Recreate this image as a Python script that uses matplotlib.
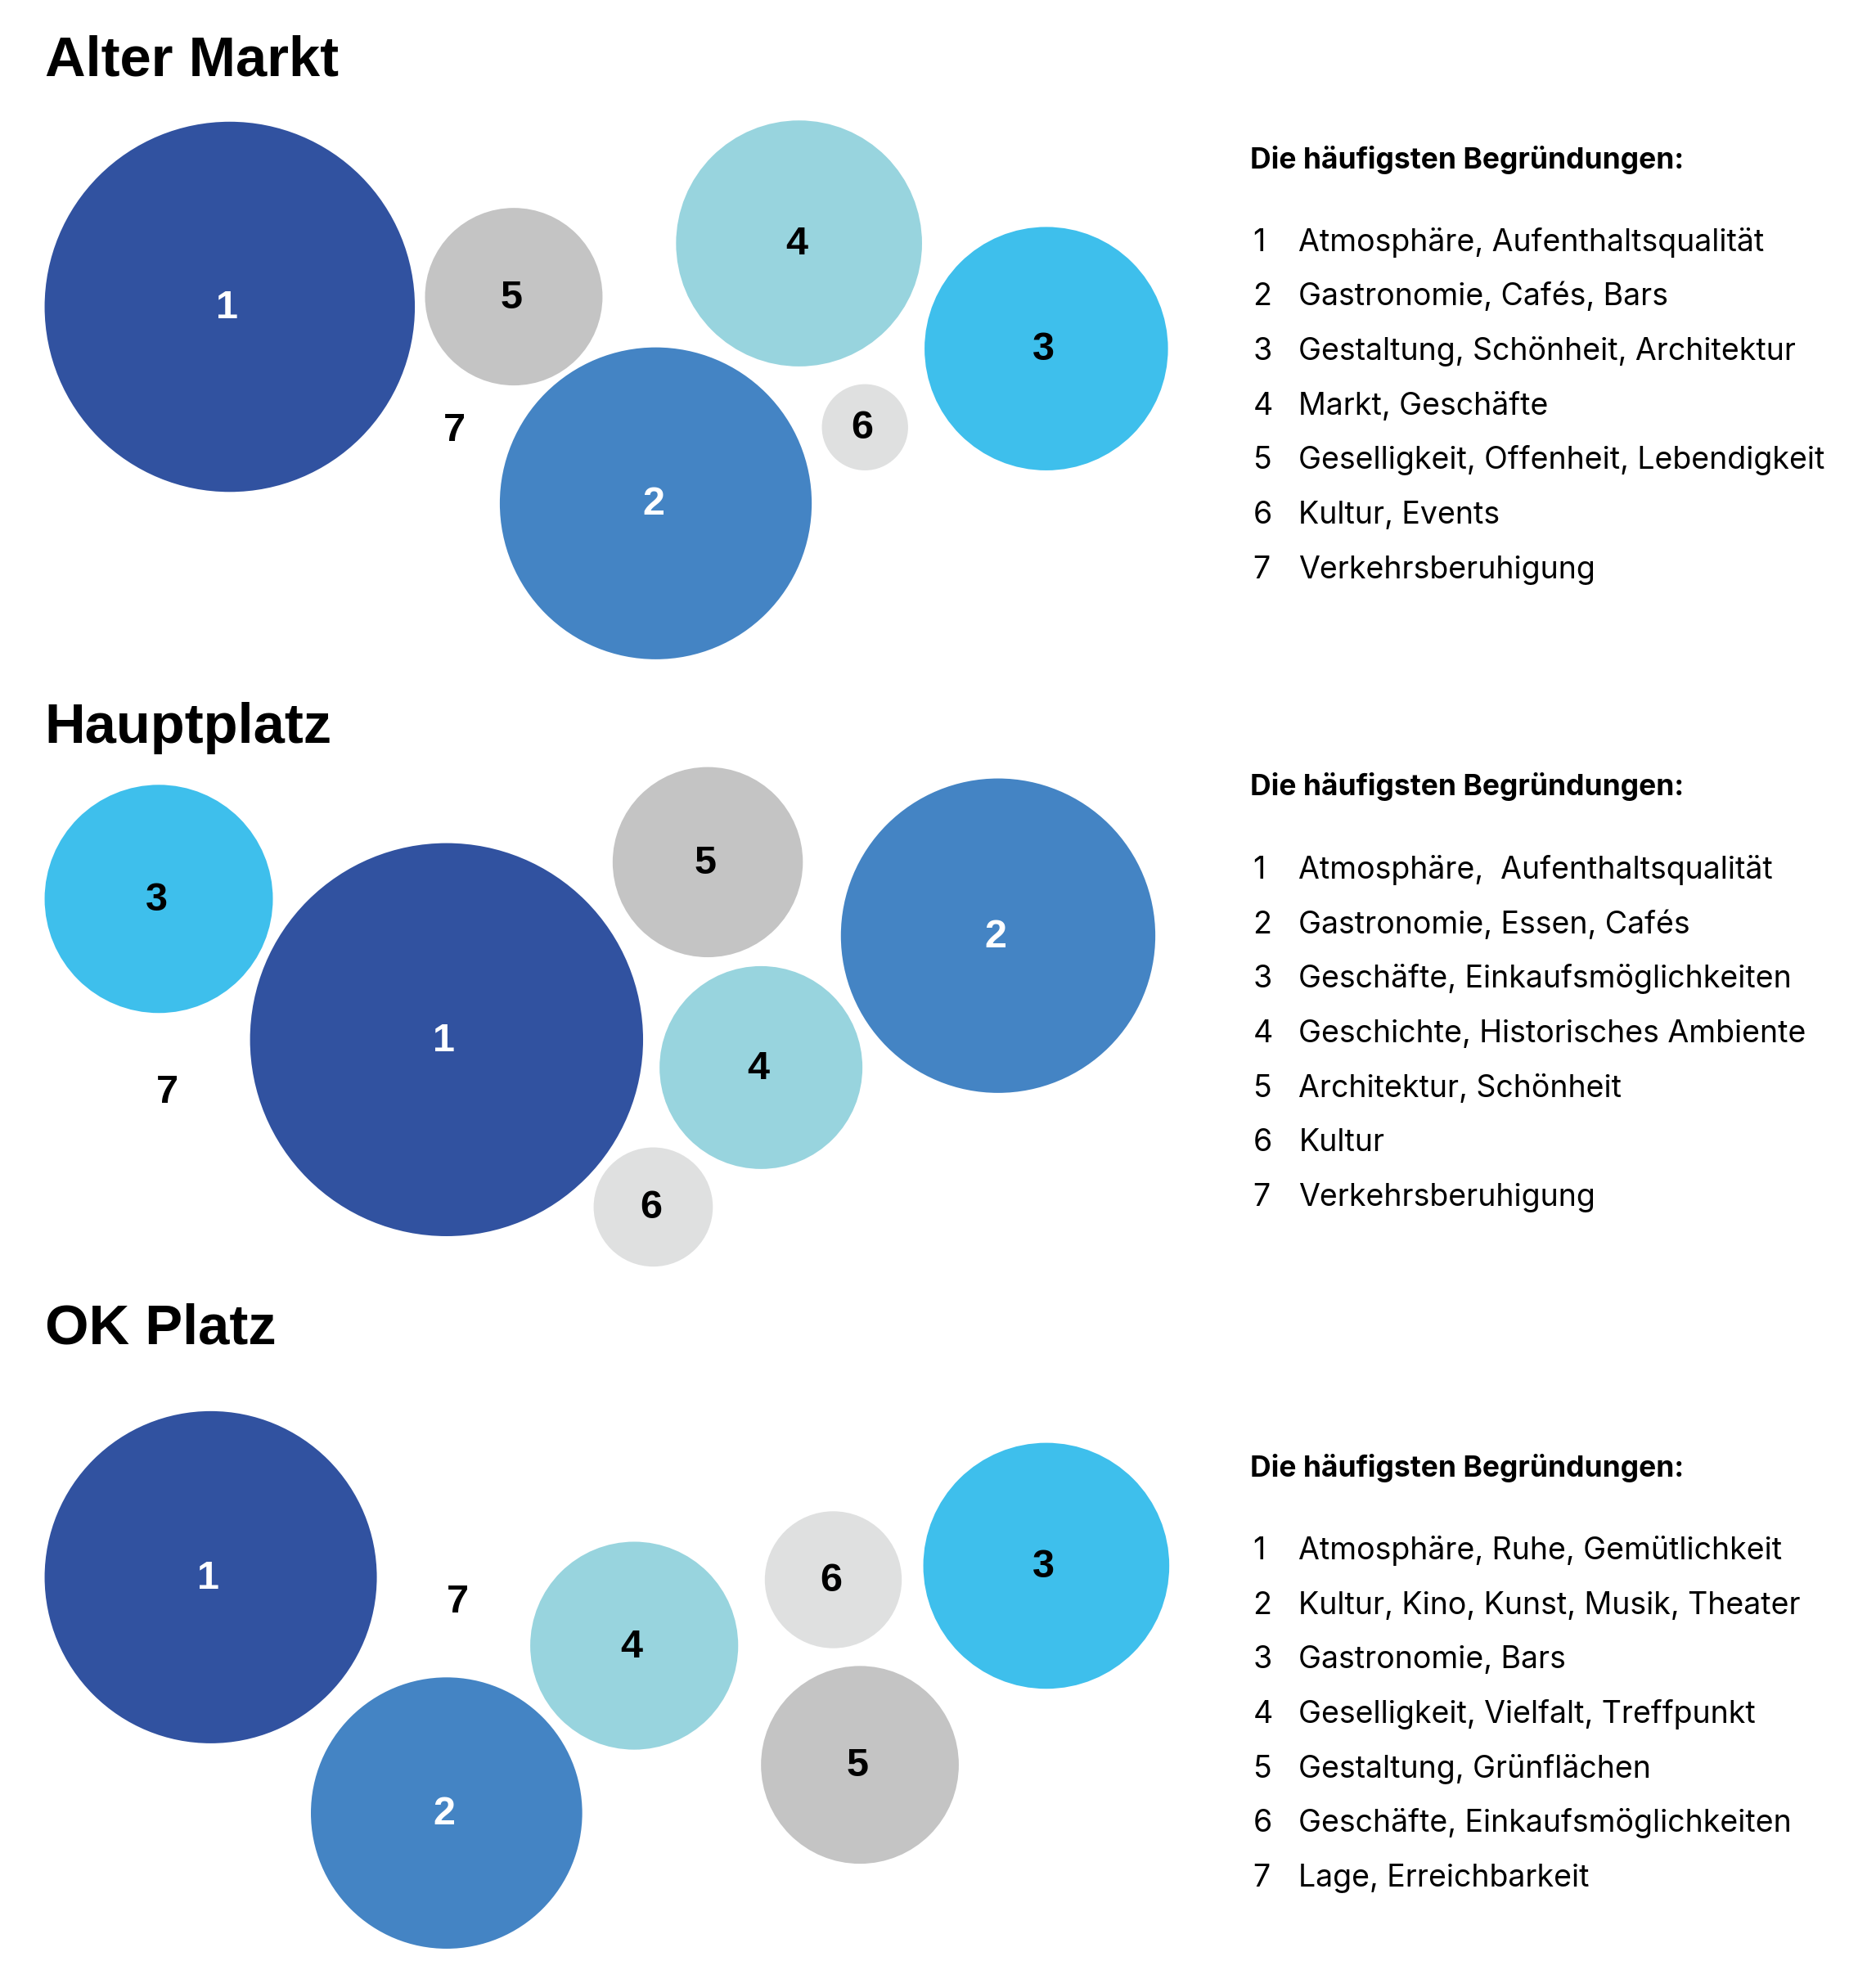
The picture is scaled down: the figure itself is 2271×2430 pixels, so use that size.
import matplotlib
matplotlib.use("Agg")
import matplotlib.pyplot as plt
from matplotlib.patches import Circle

plt.rcParams['font.family'] = ['Liberation Sans', 'DejaVu Sans']

# --- data ---------------------------------------------------------------
places = ["Alter Markt", "Hauptplatz", "OK Platz"]
heading = "Die häufigsten Begründungen:"

reasons_alter = ["Atmosphäre, Aufenthaltsqualität", "Gastronomie, Cafés, Bars",
                 "Gestaltung, Schönheit, Architektur", "Markt, Geschäfte",
                 "Geselligkeit, Offenheit, Lebendigkeit", "Kultur, Events",
                 "Verkehrsberuhigung"]
reasons_haupt = ["Atmosphäre,  Aufenthaltsqualität", "Gastronomie, Essen, Cafés",
                 "Geschäfte, Einkaufsmöglichkeiten", "Geschichte, Historisches Ambiente",
                 "Architektur, Schönheit", "Kultur", "Verkehrsberuhigung"]
reasons_ok = ["Atmosphäre, Ruhe, Gemütlichkeit", "Kultur, Kino, Kunst, Musik, Theater",
              "Gastronomie, Bars", "Geselligkeit, Vielfalt, Treffpunkt",
              "Gestaltung, Grünflächen", "Geschäfte, Einkaufsmöglichkeiten",
              "Lage, Erreichbarkeit"]

# bubble radius per reason 1..7 (reason 7 is too small to get a bubble)
size_alter = [146, 123, 96, 97, 70, 34, 0]
size_haupt = [155, 124, 90, 80, 75, 47, 0]
size_ok = [131, 107, 97, 82, 78, 54, 0]

# --- layout (canvas units, 1465 x 1568) ---------------------------------
centers_alter = [(181, 242), (517, 397), (825, 275), (630, 192), (405, 234), (682, 337), (360, 339)]
centers_haupt = [(352, 820), (787, 738), (125, 709), (600, 842), (558, 680), (515, 952), (134, 861)]
centers_ok = [(166, 1244), (352, 1430), (825, 1235), (500, 1298), (678, 1392), (657, 1246), (363, 1263)]

title_y = [60, 586, 1060]
heading_y = [125, 619, 1157]
first_item_y = [189, 684, 1221]
row_gap = 43

colors = ["#3152A0", "#4484C4", "#3EBFEC", "#98D4DE", "#C4C4C4", "#DFE0E0", "#FFFFFF"]
label_colors = ["white", "white", "black", "black", "black", "black", "black"]

W, H = 1465, 1568
fig = plt.figure(figsize=(22.71, 24.30), dpi=100)
ax = fig.add_axes([0, 0, 1, 1])
ax.set_xlim(0, W)
ax.set_ylim(H, 0)
ax.set_aspect('equal')
ax.axis('off')

blocks = [(reasons_alter, size_alter, centers_alter),
          (reasons_haupt, size_haupt, centers_haupt),
          (reasons_ok, size_ok, centers_ok)]

legend_font = ['Inter', 'DejaVu Sans']

for k, (reasons, sizes, centers) in enumerate(blocks):
    ax.text(35, title_y[k], places[k], fontsize=49.5, fontweight='bold',
            ha='left', va='baseline')
    for i, (r, (cx, cy)) in enumerate(zip(sizes, centers)):
        if r > 0:
            ax.add_patch(Circle((cx, cy), r, facecolor=colors[i], edgecolor='none'))
        ax.text(cx - 2, cy + 9, str(i + 1), fontsize=35, fontweight='bold',
                color=label_colors[i], ha='center', va='baseline')
    ax.text(986, heading_y[k] + 8, heading, fontsize=25.5, fontweight='bold',
            family=legend_font, ha='left', va='baseline')
    for i, txt in enumerate(reasons):
        y = first_item_y[k] + i * row_gap + 9
        ax.text(988, y, str(i + 1), fontsize=27, family=legend_font,
                ha='left', va='baseline')
        ax.text(1024, y, txt, fontsize=27, family=legend_font,
                ha='left', va='baseline')

fig.savefig('out.png', dpi=100, facecolor='white')
